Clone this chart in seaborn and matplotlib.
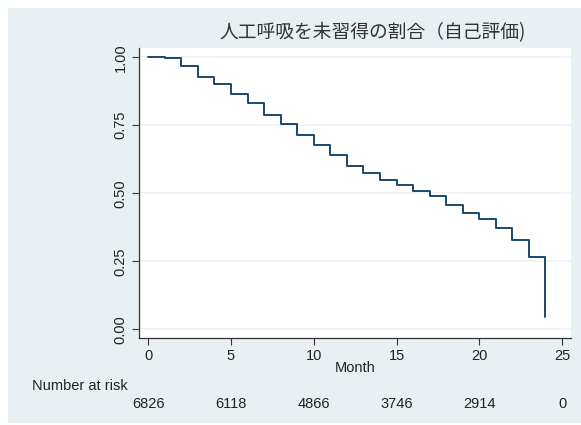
import pandas as pd
import matplotlib
matplotlib.use("Agg")
import matplotlib.pyplot as plt
import seaborn as sns
from matplotlib.patches import Rectangle
from matplotlib.transforms import blended_transform_factory

# Kaplan-Meier estimate (value held from each month on)
months = list(range(25))
survival = [1.000, 0.996, 0.968, 0.929, 0.901, 0.864, 0.833, 0.788, 0.755,
            0.714, 0.679, 0.642, 0.599, 0.575, 0.549, 0.529, 0.510, 0.489,
            0.456, 0.428, 0.404, 0.373, 0.330, 0.267, 0.047]

risk_months = [0, 5, 10, 15, 20, 25]
at_risk = [6826, 6118, 4866, 3746, 2914, 0]

x_ticks = [0, 5, 10, 15, 20, 25]
y_ticks = [0.00, 0.25, 0.50, 0.75, 1.00]
title = "人工呼吸を未習得の割合（自己評価)"

bg = "#e9f0f3"
line_col = "#1a476f"
txt = "#222222"

sns.set_theme(style="white")
plt.rcParams["font.family"] = ["Liberation Sans", "DejaVu Sans"]

df = pd.DataFrame({"month": months, "survival": survival})

fig = plt.figure(figsize=(5.81, 4.25), dpi=100)
fig.patch.set_facecolor("white")
# Stata-style tinted graph region with a thin white margin top/left
fig.patches.append(Rectangle((8 / 581, 0.005), 1, 1 - 8 / 425 - 0.005,
                             transform=fig.transFigure, facecolor=bg,
                             edgecolor="none", zorder=-10))

ax = fig.add_axes([0.2392, 0.2047, 0.7435, 0.6824])
ax.set_facecolor("white")

sns.lineplot(data=df, x="month", y="survival", ax=ax, estimator=None,
             drawstyle="steps-post", color=line_col, linewidth=1.4)

ax.set_xlim(-0.56, 25.54)
ax.set_ylim(-0.032, 1.034)
ax.set_xticks(x_ticks)
ax.set_yticks(y_ticks)
ax.set_xticklabels([str(t) for t in x_ticks], fontsize=10.5, color=txt)
ax.set_yticklabels([f"{t:.2f}" for t in y_ticks], fontsize=10.5, color=txt,
                   rotation=90, va="center")
ax.yaxis.grid(True, color="#eaf2f3", linewidth=1.2)
ax.xaxis.grid(False)
ax.tick_params(axis="both", direction="out", length=5, width=0.8,
               color="#333333", pad=3, left=True, bottom=True)

for side in ["top", "right"]:
    ax.spines[side].set_visible(False)
for side in ["left", "bottom"]:
    ax.spines[side].set_color("#333333")
    ax.spines[side].set_linewidth(0.9)

ax.set_xlabel("")
ax.set_ylabel("")
fig.text(355 / 581, 1 - 368 / 425, "Month", ha="center", va="center",
         fontsize=10.5, color=txt)

fig.text(80 / 581, 1 - 386 / 425, "Number at risk", ha="center",
         va="center", fontsize=10.5, color=txt)
trans = blended_transform_factory(ax.transData, fig.transFigure)
for m, n in zip(risk_months, at_risk):
    ax.text(m, 1 - 404 / 425, str(n), transform=trans, ha="center",
            va="center", fontsize=10.5, color=txt, clip_on=False)

fig.text(373 / 581, 1 - 33 / 425, title, ha="center", va="center",
         fontsize=13.5, color="#333333",
         family=["Noto Sans CJK JP", "DejaVu Sans"])

fig.savefig("out.png", dpi=100, facecolor=fig.get_facecolor())
